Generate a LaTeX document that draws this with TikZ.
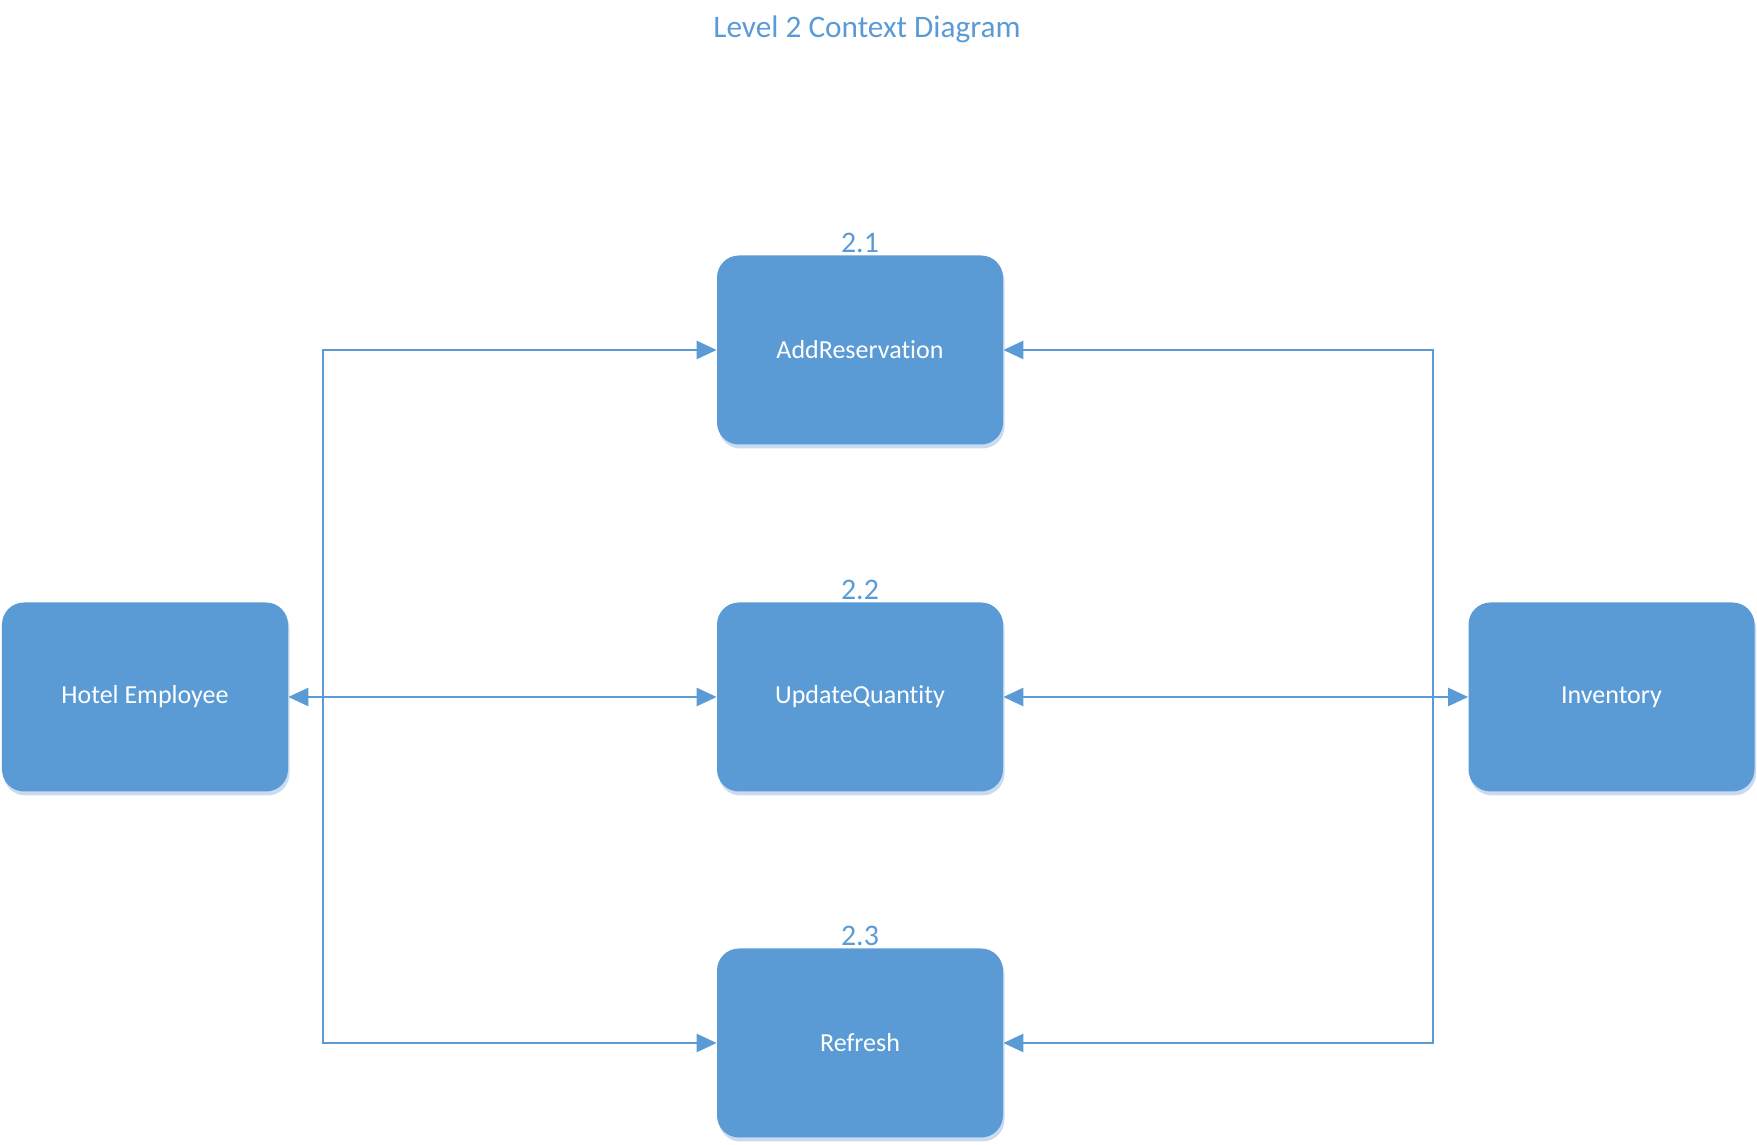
\documentclass[tikz,border=0pt]{standalone}
\usepackage{fontspec}
\setmainfont{Carlito}[RawFeature={-liga,-clig,-dlig}]
\usetikzlibrary{arrows.meta,shadows}
\definecolor{DFDBlue}{HTML}{5B9BD5}
\definecolor{DFDShade}{HTML}{C8DBF0}
\tikzset{
  proc/.style={fill=DFDBlue,rounded corners=0.44cm,minimum width=5.72cm,minimum height=3.78cm,
    text=white,font=\fontsize{14.8}{17}\selectfont,
    drop shadow={shadow xshift=0.03cm,shadow yshift=-0.08cm,fill=DFDShade,opacity=1}},
  flow/.style={DFDBlue,line width=0.05cm,>={Triangle[length=0.4cm,width=0.36cm]}},
  num/.style={text=DFDBlue,font=\fontsize{17}{20}\selectfont,anchor=base,inner sep=0pt},
}

\begin{document}
\begin{tikzpicture}[x=1cm,y=1cm]
\path[use as bounding box] (0,0) rectangle (35.14,22.90);
\node[text=DFDBlue,font=\fontsize{17.8}{21}\selectfont,anchor=base] (title) at (17.34,22.14) {Level 2 Context Diagram};
% processes
\node[proc] (add) at (17.20,15.90) {AddReservation};
\node[proc] (upd) at (17.20,8.96) {UpdateQuantity};
\node[proc] (ref) at (17.20,2.04) {Refresh};
\node[num] (n21) at ([yshift=0.06cm]add.north) {2.1};
\node[num] (n22) at ([yshift=0.06cm]upd.north) {2.2};
\node[num] (n23) at ([yshift=0.06cm]ref.north) {2.3};
% external entities
\node[proc] (emp) at (2.90,8.96) {Hotel Employee};
\node[proc] (inv) at (32.23,8.96) {Inventory};
% data flows
\coordinate (ljoin) at (6.46,8.96);
\coordinate (rjoin) at (28.66,8.96);
\draw[flow,<->] (emp) -- (upd);
\draw[flow,<->] (upd) -- (inv);
\draw[flow,->] (ljoin) |- (add);
\draw[flow,->] (ljoin) |- (ref);
\draw[flow,->] (rjoin) |- (add);
\draw[flow,->] (rjoin) |- (ref);
\end{tikzpicture}
\end{document}
